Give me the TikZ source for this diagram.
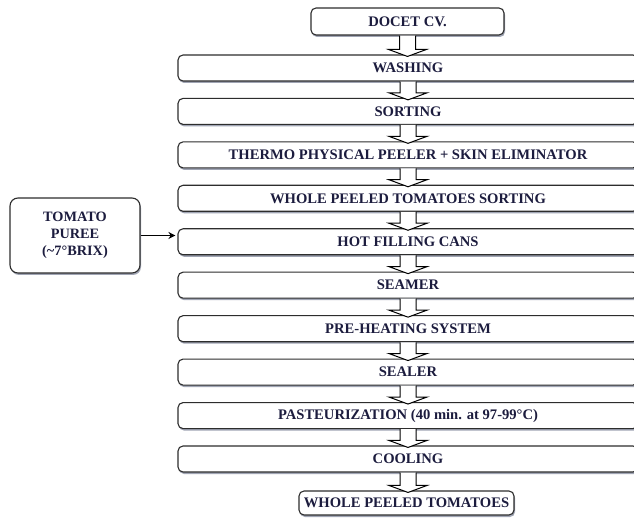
\documentclass[tikz,border=0pt]{standalone}
\usepackage{fontspec}
\setmainfont{Liberation Serif}
\usetikzlibrary{shadows,arrows.meta,calc}
\definecolor{ink}{RGB}{28,28,62}
\definecolor{edge}{RGB}{45,45,45}
\definecolor{shade}{RGB}{150,156,172}
\tikzset{
  stage/.style={draw=edge, line width=1.1pt, rounded corners=5pt, fill=white,
    drop shadow={shadow xshift=1pt, shadow yshift=-2pt, fill=shade, opacity=0.9},
    minimum height=26pt, inner sep=0pt, text=ink,
    font=\fontsize{14.6}{17}\selectfont\bfseries},
  longstage/.style={stage, minimum width=460pt},
  blockarrow/.style={draw=black, fill=white, line width=1pt, line join=miter},
  feed/.style={-{Stealth[length=7pt,width=7pt]}, line width=1.1pt, shorten >=2pt}
}
\begin{document}
\begin{tikzpicture}[x=1pt,y=-1pt]
  \clip (0,0) rectangle (634,518);
  \fill[white] (0,0) rectangle (634,518);

  % process stages
  \node[stage, minimum width=193pt, minimum height=27pt] (docet) at (407.5,21.5) {DOCET CV.};
  \node[longstage] (wash)  at (408,68.0)  {WASHING};
  \node[longstage] (sort)  at (408,111.4) {SORTING};
  \node[longstage] (peel)  at (408,154.9) {THERMO PHYSICAL PEELER + SKIN ELIMINATOR};
  \node[longstage] (wsort) at (408,198.3) {WHOLE PEELED TOMATOES SORTING};
  \node[longstage] (fill)  at (408,241.8) {HOT FILLING CANS};
  \node[longstage] (seam)  at (408,285.2) {SEAMER};
  \node[longstage] (preh)  at (408,328.7) {PRE-HEATING SYSTEM};
  \node[longstage] (seal)  at (408,372.1) {SEALER};
  \node[longstage] (past)  at (408,415.6) {PASTEURIZATION (40 min. at 97-99°C)};
  \node[longstage] (cool)  at (408,459.0) {COOLING};
  \node[stage, minimum width=215pt, minimum height=24pt] (final) at (406.5,503) {WHOLE PEELED TOMATOES};

  % side input
  \node[stage, rounded corners=8pt, minimum width=130pt, minimum height=75pt,
        align=center, font=\fontsize{14.3}{17}\selectfont\bfseries] (puree) at (75,235.5)
        {TOMATO\\PUREE\\(\textasciitilde7°BRIX)};
  \draw[feed] (puree.east) -- (puree.east -| fill.west);

  % block arrows between consecutive stages
  \foreach \a/\b in {docet/wash, wash/sort, sort/peel, peel/wsort, wsort/fill,
                     fill/seam, seam/preh, preh/seal, seal/past, past/cool, cool/final} {
    \draw[blockarrow] let \p1=(\a.south), \p2=(\b.north) in
      (\x1-8pt,\y1) -- (\x1-8pt,\y2+5pt) -- (\x1-19pt,\y2+5pt) -- (\x1,\y2-2pt)
      -- (\x1+19pt,\y2+5pt) -- (\x1+8pt,\y2+5pt) -- (\x1+8pt,\y1);
  }
\end{tikzpicture}
\end{document}
